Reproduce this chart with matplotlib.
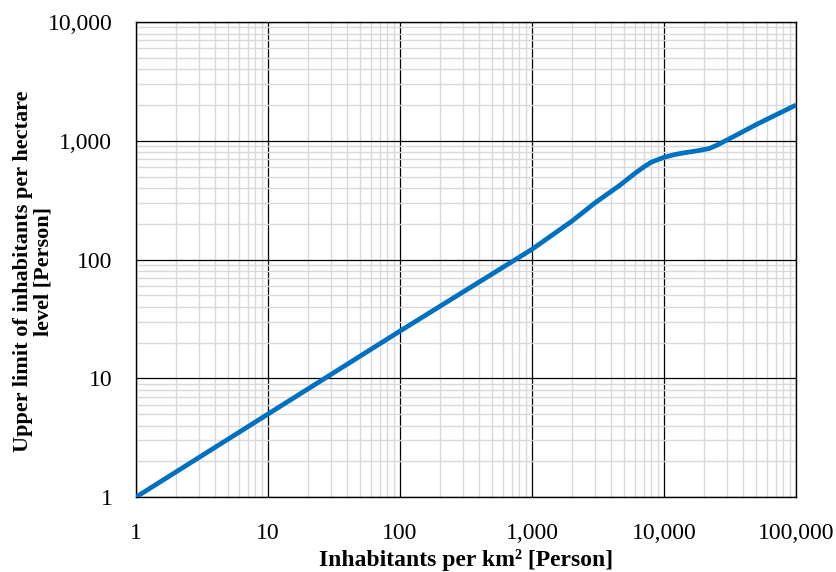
import matplotlib
matplotlib.use('Agg')
import matplotlib.pyplot as plt
from matplotlib.ticker import FuncFormatter, LogLocator, NullFormatter

# Values (log-log)
density_km2 = [1, 10, 100, 1000, 2000, 3000, 4600, 6000, 7000, 8000, 10000,
               12000, 14000, 18000, 22000, 25000, 35000, 50000, 100000]
upper_limit_ha = [1, 5, 25, 122, 210, 300, 420, 530, 600, 660, 725,
                  765, 790, 825, 860, 915, 1110, 1370, 2000]

plt.rcParams['font.family'] = ['Liberation Serif', 'DejaVu Serif']

fig = plt.figure(figsize=(8.37, 5.72), dpi=100)
ax = fig.add_axes([0.1625, 0.131, 0.7885, 0.8305])

ax.plot(density_km2, upper_limit_ha, color='#0070C0', linewidth=3.4,
        solid_capstyle='butt', solid_joinstyle='round', zorder=3)

ax.set_xscale('log')
ax.set_yscale('log')
ax.set_xlim(1, 100000)
ax.set_ylim(1, 10000)

fmt = FuncFormatter(lambda v, p: f'{v:,.0f}')
ax.xaxis.set_major_formatter(fmt)
ax.yaxis.set_major_formatter(fmt)
ax.xaxis.set_minor_locator(LogLocator(base=10, subs=range(2, 10), numticks=20))
ax.yaxis.set_minor_locator(LogLocator(base=10, subs=range(2, 10), numticks=20))
ax.xaxis.set_minor_formatter(NullFormatter())
ax.yaxis.set_minor_formatter(NullFormatter())

ax.grid(True, which='minor', color='#d9d9d9', linewidth=1.0, zorder=0)
ax.grid(True, which='major', color='black', linewidth=0.9, zorder=1)
ax.set_axisbelow(True)

ax.tick_params(which='both', length=0, labelsize=17)
ax.tick_params(axis='x', pad=19)
ax.tick_params(axis='y', pad=17)
for s in ax.spines.values():
    s.set_color('black')
    s.set_linewidth(1.0)

ax.set_xlabel('Inhabitants per km² [Person]', fontsize=17, fontweight='bold', labelpad=3)
fig.text(33 / 837, 1 - 271 / 572, 'Upper limit of inhabitants per hectare\nlevel [Person]',
         rotation=90, ha='center', va='center', multialignment='center',
         fontsize=16, fontweight='bold', linespacing=1.05)

fig.savefig('out.png', dpi=100)
